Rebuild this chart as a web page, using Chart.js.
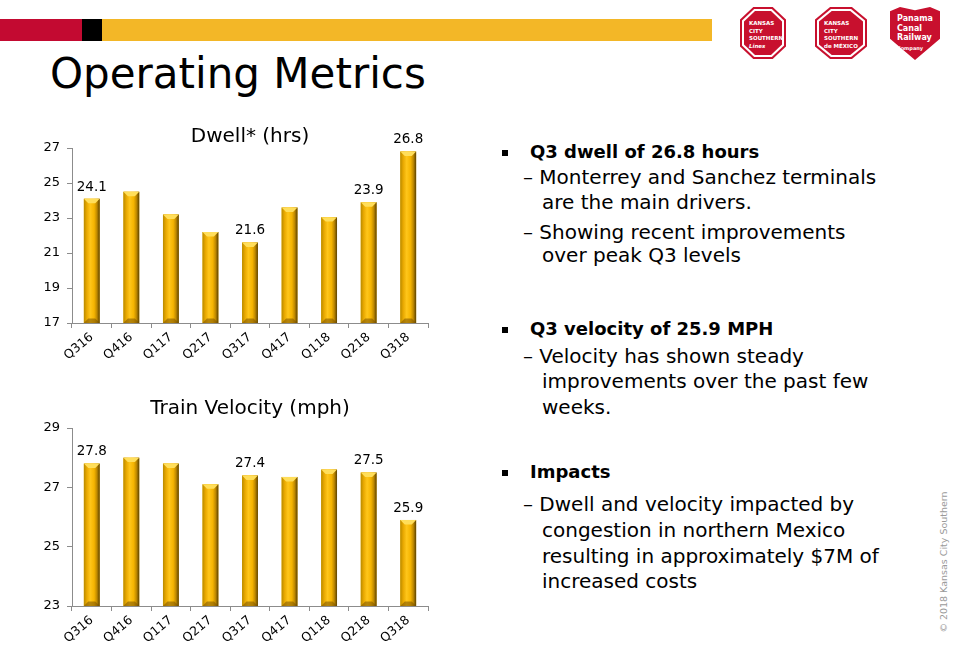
<!DOCTYPE html>
<html>
<head>
<meta charset="utf-8">
<script src="https://cdn.jsdelivr.net/npm/chart.js@4.4.0/dist/chart.umd.min.js"></script>
<style>
  body { margin:0; width:953px; height:652px; position:relative; background:#fff; overflow:hidden;
         font-family:"DejaVu Sans", sans-serif; color:#000; }
  .strip { position:absolute; top:19px; height:22px; }
  h1 { position:absolute; left:50px; top:49px; margin:0; font-weight:normal; font-size:42px; letter-spacing:0; }
  .chartbox { position:absolute; left:20px; width:420px; }
  .oct { position:absolute; background:#c8102e;
         clip-path:polygon(29% 0,71% 0,100% 24%,100% 76%,71% 100%,29% 100%,0 76%,0 24%); }
  .oct .w { position:absolute; inset:2px; background:#fff; clip-path:inherit; }
  .oct .r { position:absolute; inset:4px; background:#c8102e; clip-path:inherit;
         color:#fff; font-weight:bold; font-size:5.5px; line-height:7.5px; padding:9px 0 0 5px; box-sizing:border-box; }
  .shield { position:absolute; left:890px; top:7px; width:50px; height:53px; background:#c8102e;
         clip-path:polygon(0 8%,20% 0,50% 6%,80% 0,100% 8%,100% 60%,50% 100%,0 60%);
         color:#fff; font-weight:bold; font-size:8px; line-height:9.5px; padding:7px 0 0 7px; box-sizing:border-box; }
  .txt { position:absolute; left:500px; top:0; width:420px; font-size:20px; }
  .b { position:absolute; left:30px; font-weight:bold; font-size:18px; white-space:nowrap; }
  .sq { position:absolute; left:2px; width:6px; height:6px; background:#000; }
  .s { position:absolute; left:23px; white-space:nowrap; }
  .s2 { position:absolute; left:42px; white-space:nowrap; }
  .copy { position:absolute; left:943px; top:562px; transform:translate(-50%,-50%) rotate(-90deg);
          font-size:9.5px; color:#9a9a9a; white-space:nowrap; }
</style>
</head>
<body>
<div class="strip" style="left:0;width:82px;background:#c30a31"></div>
<div class="strip" style="left:82px;width:20px;background:#000"></div>
<div class="strip" style="left:102px;width:610px;background:#f3b727"></div>

<div class="oct" style="left:740px;top:7px;width:46px;height:52px"><div class="w"></div><div class="r">KANSAS<br>CITY<br>SOUTHERN<br><i>Lines</i></div></div>
<div class="oct" style="left:815px;top:7px;width:52px;height:52px"><div class="w"></div><div class="r">KANSAS<br>CITY<br>SOUTHERN<br>de MÉXICO</div></div>
<div class="shield">Panama<br>Canal<br>Railway<br><span style="font-size:5px">Company</span></div>

<h1>Operating Metrics</h1>

<div class="chartbox" style="top:116px;height:245px"><canvas id="dwellChart"></canvas></div>
<div class="chartbox" style="top:388px;height:256px"><canvas id="velocityChart"></canvas></div>

<div class="txt">
  <div class="sq" style="top:150px"></div>
  <div class="b" style="top:141px">Q3 dwell of 26.8 hours</div>
  <div class="s" style="top:165px">– Monterrey and Sanchez terminals</div>
  <div class="s2" style="top:190px">are the main drivers.</div>
  <div class="s" style="top:220px">– Showing recent improvements</div>
  <div class="s2" style="top:243px">over peak Q3 levels</div>

  <div class="sq" style="top:327px"></div>
  <div class="b" style="top:318px">Q3 velocity of 25.9 MPH</div>
  <div class="s" style="top:344px">– Velocity has shown steady</div>
  <div class="s2" style="top:369px">improvements over the past few</div>
  <div class="s2" style="top:395px">weeks.</div>

  <div class="sq" style="top:470px"></div>
  <div class="b" style="top:461px">Impacts</div>
  <div class="s" style="top:492px">– Dwell and velocity impacted by</div>
  <div class="s2" style="top:518px">congestion in northern Mexico</div>
  <div class="s2" style="top:544px">resulting in approximately $7M of</div>
  <div class="s2" style="top:569px">increased costs</div>
</div>

<div class="copy">© 2018 Kansas City Southern</div>

<script>
const quarters = ['Q316', 'Q416', 'Q117', 'Q217', 'Q317', 'Q417', 'Q118', 'Q218', 'Q318'];
const dwellHrs = [24.1, 24.5, 23.2, 22.2, 21.6, 23.6, 23.05, 23.9, 26.8];
const velocityMph = [27.8, 28.0, 27.8, 27.1, 27.4, 27.35, 27.6, 27.5, 25.9];
const labelledQuarters = ['Q316', 'Q317', 'Q218', 'Q318'];
const dwellTicks = [17, 19, 21, 23, 25, 27];
const velocityTicks = [23, 25, 27, 29];

const FONT = '"DejaVu Sans", sans-serif';

// gold bevel look drawn over each bar element
const bevelPlugin = {
    id: 'bevel',
    afterDatasetsDraw(chart) {
        const ctx = chart.ctx;
        const area = chart.chartArea;
        chart.getDatasetMeta(0).data.forEach(bar => {
            const p = bar.getProps(['x', 'y', 'base', 'width'], true);
            const l = p.x - p.width / 2, r = p.x + p.width / 2, t = p.y;
            const bt = Math.min(p.base, area.bottom);
            const h = bt - t;
            const b = Math.min(p.width * 0.28, h / 2);
            ctx.save();
            const g = ctx.createLinearGradient(l, 0, r, 0);
            g.addColorStop(0, '#b88a00');
            g.addColorStop(0.18, '#e8a800');
            g.addColorStop(0.4, '#ffc61a');
            g.addColorStop(0.65, '#f5b400');
            g.addColorStop(0.82, '#c08a00');
            g.addColorStop(1, '#5c4200');
            ctx.fillStyle = g;
            ctx.fillRect(l, t, p.width, h);
            // top cap
            ctx.fillStyle = '#ffde5a';
            ctx.beginPath();
            ctx.moveTo(l, t); ctx.lineTo(r, t); ctx.lineTo(r - b, t + b); ctx.lineTo(l + b, t + b);
            ctx.closePath(); ctx.fill();
            // bottom cap
            ctx.fillStyle = 'rgba(120,80,0,0.55)';
            ctx.beginPath();
            ctx.moveTo(l, bt); ctx.lineTo(r, bt); ctx.lineTo(r - b, bt - b); ctx.lineTo(l + b, bt - b);
            ctx.closePath(); ctx.fill();
            ctx.restore();
        });
    }
};

// value labels above selected bars
const valueLabels = {
    id: 'valueLabels',
    afterDatasetsDraw(chart) {
        const ctx = chart.ctx;
        const values = chart.data.datasets[0].data;
        ctx.save();
        ctx.font = '13.5px ' + FONT;
        ctx.fillStyle = '#000';
        ctx.textAlign = 'center';
        ctx.textBaseline = 'bottom';
        chart.getDatasetMeta(0).data.forEach((bar, i) => {
            if (!labelledQuarters.includes(chart.data.labels[i])) return;
            ctx.fillText(values[i].toFixed(1), bar.x, bar.y - 5);
        });
        ctx.restore();
    }
};

function makeChart(id, title, values, ticks, titlePad) {
    const ctx = document.getElementById(id).getContext('2d');
    return new Chart(ctx, {
        type: 'bar',
        data: {
            labels: quarters,
            datasets: [{
                label: title,
                data: values,
                backgroundColor: '#f5b400',
                barPercentage: 0.8,
                categoryPercentage: 0.5
            }]
        },
        options: {
            responsive: true,
            maintainAspectRatio: false,
            animation: false,
            layout: { padding: { right: 12, left: 0, top: 0, bottom: 0 } },
            plugins: {
                legend: { display: false },
                tooltip: { enabled: false },
                title: {
                    display: true,
                    text: title,
                    fullSize: false,
                    color: '#000',
                    font: { family: FONT, size: 20, weight: 'normal', lineHeight: 1.1 },
                    padding: titlePad
                }
            },
            scales: {
                x: {
                    grid: { drawOnChartArea: false, drawTicks: true, tickLength: 5, color: '#8c8c8c' },
                    border: { color: '#8c8c8c' },
                    ticks: { color: '#000', font: { family: FONT, size: 12.5 }, minRotation: 40, maxRotation: 40, padding: 2 },
                    afterFit: s => { s.height = 38; }
                },
                y: {
                    min: ticks[0],
                    max: ticks[ticks.length - 1],
                    grid: { drawOnChartArea: false, drawTicks: true, tickLength: 5, color: '#8c8c8c' },
                    border: { color: '#8c8c8c' },
                    ticks: { stepSize: ticks[1] - ticks[0], color: '#000', font: { family: FONT, size: 13 }, padding: 7 },
                    afterFit: s => { s.width = 52; }
                }
            }
        },
        plugins: [bevelPlugin, valueLabels]
    });
}

makeChart('dwellChart', 'Dwell* (hrs)', dwellHrs, dwellTicks, { top: 10, bottom: 0 });
makeChart('velocityChart', 'Train Velocity (mph)', velocityMph, velocityTicks, { top: 10, bottom: 8 });
</script>
</body>
</html>
